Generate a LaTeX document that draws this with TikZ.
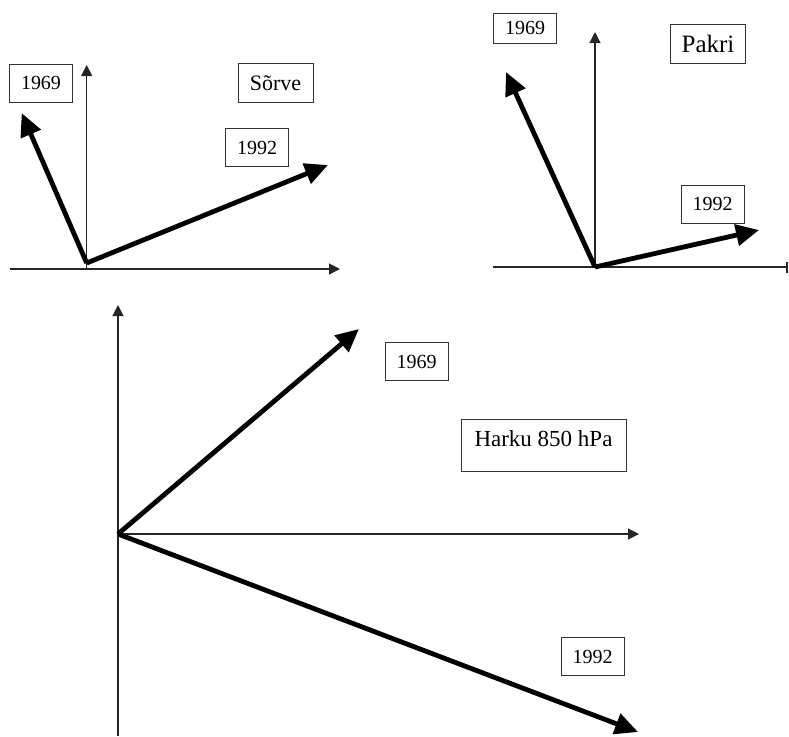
\documentclass[tikz,border=0pt]{standalone}
\usepackage{fontspec}
\setmainfont{Liberation Serif}
\usepackage{tikz}
\usetikzlibrary{arrows.meta}
\tikzset{
  yearbox/.style={
    rectangle, draw=black!80, line width=0.5pt, fill=white,
    minimum width=31.5pt, minimum height=19pt, inner sep=0pt,
    font=\fontsize{10}{12}\selectfont
  },
  sitebox/.style={yearbox, minimum width=37.5pt, minimum height=19.5pt,
    font=\fontsize{11}{13}\selectfont},
  axisline/.style={-{Triangle[length=5.5pt,width=5.5pt]}, line width=0.6pt, draw=black!85},
  windvec/.style={-{Triangle[length=11.5pt,width=10.5pt]}, line width=2.4pt, draw=black},
}

\begin{document}
\begin{tikzpicture}[x=0.5pt, y=-0.5pt]
  \useasboundingbox (0,0) rectangle (789,736);
  % Sorve
  \coordinate (so)   at (86.7,263);
  \coordinate (sox0) at (10,269);   \coordinate (sox1) at (340,269);
  \coordinate (soy0) at (86.7,269); \coordinate (soy1) at (86.7,65);
  \coordinate (so69) at (21.7,113); \coordinate (so92) at (328,165);
  \draw[axisline] (sox0)--(sox1); \draw[axisline] (soy0)--(soy1);
  \draw[windvec] (so)--(so69); \draw[windvec] (so)--(so92);
  \node (soa) [yearbox] at (41,83) {1969};
  \node (sob) [sitebox] at (275.5,83) {Sõrve};
  \node (soc) [yearbox] at (257,147.5) {1992};
  % Pakri
  \coordinate (pa)   at (595,267);
  \coordinate (pax0) at (493,267); \coordinate (pax1) at (788,267);
  \coordinate (pay1) at (595,32);
  \coordinate (pa69) at (506,72);  \coordinate (pa92) at (759,230);
  \draw[line width=0.6pt, draw=black!85, -{Bar[width=5.5pt,line width=1.2pt]}] (pax0)--(pax1);
  \draw[axisline] (pa)--(pay1);
  \draw[windvec] (pa)--(pa69); \draw[windvec] (pa)--(pa92);
  \node (paa) [yearbox, minimum height=15pt] at (525,28) {1969};
  \node (pab) [sitebox, font=\fontsize{12.5}{14}\selectfont] at (708,44) {Pakri};
  \node (pac) [yearbox] at (712.5,204) {1992};
  % Harku 850 hPa
  \coordinate (ha)   at (118,534);
  \coordinate (hax1) at (639,534);
  \coordinate (hay0) at (118,736); \coordinate (hay1) at (118,305);
  \coordinate (ha69) at (359,329); \coordinate (ha92) at (638,732);
  \draw[axisline] (ha)--(hax1); \draw[axisline] (hay0)--(hay1);
  \draw[windvec] (ha)--(ha69); \draw[windvec] (ha)--(ha92);
  \node (haa) [yearbox] at (416.5,361.5) {1969};
  \node (hab) [sitebox, minimum width=82.5pt, minimum height=26pt, text depth=6pt,
    font=\fontsize{11.5}{13}\selectfont] at (543.5,445) {Harku 850 hPa};
  \node (hac) [yearbox] at (592.5,656.5) {1992};
\end{tikzpicture}
\end{document}
